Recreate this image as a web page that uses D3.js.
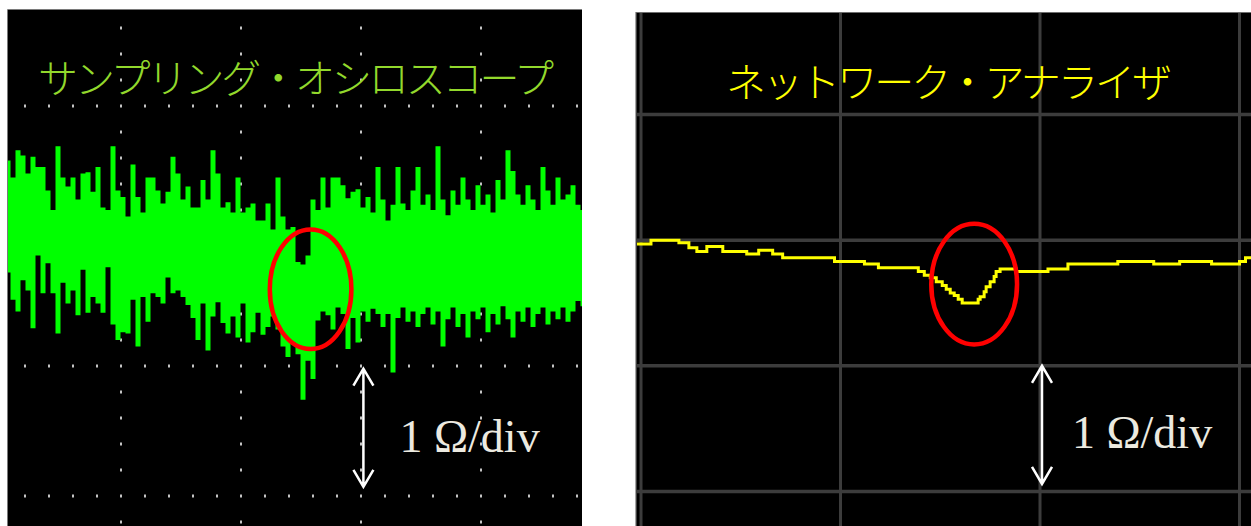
<!DOCTYPE html>
<html>
<head>
<meta charset="utf-8">
<script src="https://cdn.jsdelivr.net/npm/d3@7"></script>
<style>
  body { margin: 0; background: #fff; }
  svg { display: block; }
</style>
</head>
<body>
<div id="chart"></div>
<script>
// sampling scope: top / bottom of the trace for each sample column (ohm, from centre line)
var scopeHigh = [
  0.58, 0.45, 0.66, 0.62, 0.48, 0.61, 0.53, 0.53, 0.35, 0.20,
  0.69, 0.45, 0.38, 0.45, 0.28, 0.48, 0.49, 0.34, 0.53, 0.22,
  0.20, 0.69, 0.35, 0.30, 0.15, 0.55, 0.30, 0.18, 0.45, 0.45,
  0.35, 0.25, 0.34, 0.61, 0.48, 0.28, 0.38, 0.22, 0.22, 0.43,
  0.28, 0.66, 0.48, 0.22, 0.26, 0.18, 0.45, 0.18, 0.22, 0.25,
  0.12, 0.12, 0.25, 0.05, 0.45, 0.15, 0.05, 0.07, -0.20, -0.22,
  -0.15, 0.28, 0.20, 0.45, 0.22, 0.45, 0.45, 0.39, 0.29, 0.34,
  0.36, 0.22, 0.30, 0.18, 0.53, 0.28, 0.12, 0.24, 0.53, 0.25,
  0.20, 0.35, 0.53, 0.24, 0.32, 0.20, 0.69, 0.28, 0.16, 0.35,
  0.24, 0.45, 0.28, 0.20, 0.39, 0.24, 0.32, 0.18, 0.43, 0.28,
  0.66, 0.50, 0.32, 0.24, 0.39, 0.28, 0.20, 0.53, 0.35, 0.24,
  0.45, 0.28, 0.32, 0.39, 0.24, 0.20
];
var scopeLow = [
  -0.28, -0.49, -0.58, -0.34, -0.42, -0.71, -0.15, -0.44, -0.21, -0.44,
  -0.75, -0.36, -0.52, -0.42, -0.61, -0.26, -0.59, -0.47, -0.52, -0.59,
  -0.24, -0.68, -0.80, -0.74, -0.75, -0.49, -0.85, -0.47, -0.66, -0.44,
  -0.47, -0.52, -0.32, -0.44, -0.42, -0.47, -0.53, -0.63, -0.80, -0.52,
  -0.88, -0.62, -0.51, -0.67, -0.75, -0.62, -0.78, -0.52, -0.82, -0.74,
  -0.59, -0.76, -0.70, -0.62, -0.72, -0.85, -0.93, -0.82, -0.91, -1.26,
  -0.96, -1.10, -0.65, -0.58, -0.61, -0.72, -0.55, -0.60, -0.87, -0.63,
  -0.82, -0.58, -0.66, -0.56, -0.60, -0.70, -0.60, -1.05, -0.63, -0.55,
  -0.66, -0.58, -0.70, -0.60, -0.55, -0.68, -0.58, -0.85, -0.64, -0.55,
  -0.70, -0.60, -0.78, -0.58, -0.64, -0.55, -0.74, -0.60, -0.68, -0.54,
  -0.64, -0.78, -0.58, -0.66, -0.55, -0.70, -0.60, -0.55, -0.68, -0.58,
  -0.64, -0.55, -0.66, -0.58, -0.50, -0.54
];
// network analyser: [position (div), ohm]
var vnaTrace = [
  [-0.02, -0.03], [0.05, 0.00], [0.19, -0.02], [0.24, -0.06], [0.28, -0.09],
  [0.33, -0.05], [0.41, -0.09], [0.53, -0.11], [0.59, -0.08], [0.66, -0.11],
  [0.71, -0.14], [0.97, -0.17], [1.12, -0.19], [1.19, -0.22], [1.39, -0.25],
  [1.42, -0.28], [1.45, -0.30], [1.48, -0.33], [1.51, -0.36], [1.53, -0.39],
  [1.55, -0.42], [1.57, -0.44], [1.59, -0.47], [1.61, -0.50], [1.69, -0.47],
  [1.70, -0.45], [1.72, -0.41], [1.73, -0.37], [1.75, -0.33], [1.77, -0.29],
  [1.78, -0.25], [1.80, -0.23], [1.88, -0.25], [2.04, -0.23], [2.14, -0.19],
  [2.39, -0.17], [2.57, -0.19], [2.70, -0.17], [2.86, -0.19], [3.00, -0.17],
  [3.03, -0.14], [3.06, -0.14]
];
var titles = ["サンプリング・オシロスコープ", "ネットワーク・アナライザ"];
var scaleLabel = "1 Ω/div";

var width = 1251, height = 526;

var svg = d3.select("#chart").append("svg")
  .attr("width", width)
  .attr("height", height);

var defs = svg.append("defs");
defs.append("clipPath").attr("id", "clipL")
  .append("rect").attr("x", 8).attr("y", 10).attr("width", 574).attr("height", 516);
defs.append("clipPath").attr("id", "clipR")
  .append("rect").attr("x", 637).attr("y", 13).attr("width", 614).attr("height", 513);

// ---------- left panel: sampling oscilloscope ----------
var xL = d3.scaleLinear().domain([0, 5]).range([1, 601]);
var yL = d3.scaleLinear().domain([-2, 2]).range([496, -24]);
var xS = d3.scaleLinear().domain([0, scopeHigh.length - 1]).range([8, 583]);

svg.append("rect").attr("x", 8).attr("y", 10).attr("width", 574).attr("height", 516).attr("fill", "#000");
svg.append("path").attr("d", "M7.5,526V9.5H582").attr("fill", "none").attr("stroke", "#7a7a7a").attr("stroke-width", 1);

var left = svg.append("g").attr("clip-path", "url(#clipL)");

// dotted graticule
var rows = [1, 0, -1, -2];
var cols = [1, 2, 3, 4];
var dotG = left.append("g").attr("fill", "#c4c4c4");
rows.forEach(r => {
  d3.range(1, 25).forEach(k => {
    dotG.append("rect")
      .attr("x", xL(k * 0.2) - 1).attr("y", yL(r) - 1.5)
      .attr("width", 2).attr("height", 3);
  });
});
cols.forEach(c => {
  d3.range(-11, 10).forEach(k => {
    if (k % 5 === 0) return;
    dotG.append("rect")
      .attr("x", xL(c) - 1).attr("y", yL(k * 0.2) - 1.5)
      .attr("width", 2).attr("height", 3);
  });
});

// title
left.append("text")
  .attr("x", 296).attr("y", 76)
  .attr("text-anchor", "middle")
  .attr("dominant-baseline", "central")
  .attr("font-family", "'Noto Sans CJK JP', sans-serif")
  .attr("font-weight", 300)
  .attr("font-size", 40)
  .attr("textLength", 516)
  .attr("lengthAdjust", "spacing")
  .attr("fill", "#92d82c")
  .text(titles[0]);

// noisy trace, one step per sample column
var scopeArea = d3.area()
  .x((d, i) => xS(i))
  .y0((d, i) => yL(scopeLow[i]))
  .y1(d => yL(d))
  .curve(d3.curveStep);

left.append("path")
  .datum(scopeHigh)
  .attr("d", scopeArea)
  .attr("fill", "#00ff00");

// marker ellipse
left.append("ellipse")
  .attr("cx", xL(2.58)).attr("cy", yL(-0.41))
  .attr("rx", xL(2.58 + 0.34) - xL(2.58)).attr("ry", yL(-0.41 - 0.46) - yL(-0.41))
  .attr("fill", "none").attr("stroke", "#ff0000").attr("stroke-width", 4.5);

// ---------- right panel: network analyser ----------
var xR = d3.scaleLinear().domain([0, 1]).range([641, 840.5]);
var yR = d3.scaleLinear().domain([-2, 1]).range([491.5, 114.5]);

svg.append("rect").attr("x", 636).attr("y", 13).attr("width", 615).attr("height", 513).attr("fill", "#000");
svg.append("path").attr("d", "M636,526V12.5H1251").attr("fill", "none").attr("stroke", "#6e6e6e").attr("stroke-width", 1.2);

var right = svg.append("g").attr("clip-path", "url(#clipR)");

right.append("g").selectAll("line")
  .data([0, 1, 2, 3])
  .join("line")
  .attr("x1", d => xR(d)).attr("x2", d => xR(d))
  .attr("y1", 13).attr("y2", 526)
  .attr("stroke", "#3c3c3c").attr("stroke-width", 3);
right.append("g").selectAll("line")
  .data([1, 0, -1, -2])
  .join("line")
  .attr("x1", 636).attr("x2", 1251)
  .attr("y1", d => yR(d)).attr("y2", d => yR(d))
  .attr("stroke", "#3c3c3c").attr("stroke-width", 3.5);

right.append("text")
  .attr("x", 949).attr("y", 80)
  .attr("text-anchor", "middle")
  .attr("dominant-baseline", "central")
  .attr("font-family", "'Noto Sans CJK JP', sans-serif")
  .attr("font-weight", 300)
  .attr("font-size", 40)
  .attr("textLength", 446)
  .attr("lengthAdjust", "spacing")
  .attr("fill", "#ffff00")
  .text(titles[1]);

var vnaLine = d3.line()
  .x(d => xR(d[0]))
  .y(d => yR(d[1]))
  .curve(d3.curveStepAfter);

right.append("path")
  .datum(vnaTrace)
  .attr("d", vnaLine)
  .attr("fill", "none")
  .attr("stroke", "#ffff00")
  .attr("stroke-width", 3);

right.append("ellipse")
  .attr("cx", xR(1.67)).attr("cy", yR(-0.35))
  .attr("rx", xR(1.67 + 0.215) - xR(1.67)).attr("ry", yR(-0.35 - 0.48) - yR(-0.35))
  .attr("fill", "none").attr("stroke", "#ff0000").attr("stroke-width", 4.5);

// ---------- scale arrows ----------
function scaleArrow(g, x, yTop, yBot) {
  var hw = 10, hh = 17;
  g.append("path")
    .attr("d", `M${x},${yTop}V${yBot}M${x - hw},${yTop + hh}L${x},${yTop}L${x + hw},${yTop + hh}` +
               `M${x - hw},${yBot - hh}L${x},${yBot}L${x + hw},${yBot - hh}`)
    .attr("fill", "none")
    .attr("stroke", "#fff")
    .attr("stroke-width", 2.5)
    .attr("stroke-linejoin", "miter");
}
scaleArrow(svg, xL(3.02), yL(-1.02), yL(-1.93));
scaleArrow(svg, xR(2.01), yR(-1.0), yR(-1.94));

[[xL(3.32), yL(-1.66)], [xR(2.16), yR(-1.65)]].forEach(p => {
  svg.append("text")
    .attr("x", p[0]).attr("y", p[1])
    .attr("font-family", "'Liberation Serif', 'Times New Roman', serif")
    .attr("font-size", 46)
    .attr("fill", "#eceae0")
    .text(scaleLabel);
});
</script>
</body>
</html>
